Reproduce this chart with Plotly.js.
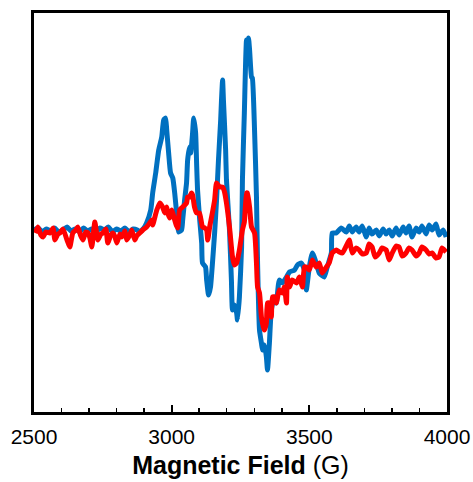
<!DOCTYPE html>
<html>
<head>
<meta charset="utf-8">
<script src="https://cdn.plot.ly/plotly-3.0.1.min.js"></script>
<style>html,body{margin:0;padding:0;background:#fff;}#chart{width:473px;height:482px;}</style>
</head>
<body>
<div id="chart"></div>
<script>
// Magnetic field (G) and EPR signal (arbitrary units)
const fieldBlue = [2500,2515,2530,2545,2560,2575,2590,2605,2620,2635,2650,2665,2680,2695,2710,2725,2740,2755,2770,2785,2800,2815,2830,2845,2860,2875,2884,2899,2909,2924,2931,2942,2953,2964,2971,2978,2982,2989,2996,3004,3011,3018,3025,3036,3040,3047,3054,3058,3065,3069,3076,3080,3087,3091,3094,3101,3109,3112,3123,3127,3134,3141,3149,3156,3163,3170,3178,3181,3185,3188,3196,3199,3210,3217,3221,3228,3236,3239,3246,3254,3257,3264,3272,3275,3279,3283,3290,3293,3301,3308,3312,3319,3326,3330,3337,3344,3348,3355,3362,3373,3380,3391,3402,3417,3428,3446,3457,3471,3482,3489,3500,3511,3525,3536,3554,3565,3580,3583,3598,3616,3634,3645,3656,3670,3681,3692,3707,3717,3728,3743,3754,3768,3779,3790,3801,3815,3826,3841,3851,3862,3873,3888,3899,3909,3924,3935,3946,3960,3971,3986,3997];
const signalBlue = [2,4,0,3,1,4,0,2,5,1,3,0,4,1,3,0,4,2,5,0,3,1,4,0,3,2,0,4,9,22,39,59,82,95,112,114,102,79,59,54,39,19,0,2,12,32,49,72,85,79,99,114,99,65,42,15,-11,-31,-35,-48,-63,-55,-28,-1,32,72,112,132,152,132,82,52,2,-48,-78,-73,-81,-88,-65,-15,52,119,192,189,194,182,155,154,102,35,-31,-98,-111,-118,-113,-125,-138,-111,-78,-65,-71,-48,-51,-45,-40,-38,-33,-31,-38,-58,-35,-21,-31,-41,-45,-35,-21,-1,-1,4,0,6,0,5,0,6,-5,4,-2,2,-4,3,-2,2,-4,4,-3,5,-1,6,-5,4,0,6,-2,7,2,8,-3,2,-5];

const fieldRed = [2504,2514,2525,2533,2543,2558,2569,2576,2587,2594,2605,2620,2630,2641,2652,2659,2670,2678,2688,2696,2703,2710,2721,2732,2743,2750,2761,2768,2779,2786,2793,2801,2812,2819,2830,2837,2848,2855,2866,2873,2884,2895,2909,2920,2928,2931,2946,2957,2967,2975,2982,2986,2993,3000,3004,3011,3018,3022,3029,3040,3054,3058,3065,3072,3076,3083,3091,3101,3112,3120,3127,3131,3138,3145,3156,3163,3174,3185,3192,3199,3210,3221,3228,3236,3246,3257,3264,3272,3275,3283,3290,3301,3308,3312,3319,3326,3333,3337,3344,3348,3355,3362,3366,3373,3380,3391,3402,3409,3417,3420,3428,3438,3453,3464,3475,3482,3489,3500,3511,3525,3536,3547,3562,3572,3583,3598,3609,3620,3634,3645,3656,3670,3681,3692,3707,3717,3728,3739,3754,3764,3779,3790,3801,3815,3826,3837,3851,3862,3873,3888,3899,3909,3924,3935,3946,3960,3971,3982,3997];
const signalRed = [-1,5,-3,-5,0,-1,4,-8,-2,-1,3,-8,-15,-1,2,5,-4,-8,0,-1,-6,-15,10,-8,-2,-1,3,-11,-3,-1,-4,-11,-2,-5,1,-8,-3,2,-8,-4,-1,2,5,9,12,7,22,29,25,19,25,19,14,22,19,12,6,4,22,25,29,35,35,39,37,25,19,19,5,4,2,-8,5,15,32,49,45,45,40,29,5,-25,-33,-31,-18,2,10,39,39,25,5,-1,-31,-55,-61,-85,-95,-98,-91,-71,-71,-85,-65,-65,-71,-58,-61,-55,-71,-45,-55,-48,-51,-45,-55,-35,-35,-38,-28,-35,-31,-41,-35,-31,-21,-18,-20,-21,-14,-8,-21,-16,-18,-22,-21,-12,-15,-25,-21,-16,-18,-28,-21,-14,-15,-24,-21,-16,-18,-24,-21,-15,-18,-22,-21,-26,-25,-16,-20];

const xTickVals = [2500, 3000, 3500, 4000];
const xTickText = ['2500', '3000', '3500', '4000'];

const traces = [
  {x: fieldBlue, y: signalBlue, type: 'scatter', mode: 'lines',
   line: {color: '#0070C0', width: 5, shape: 'spline', smoothing: 0.5}, hoverinfo: 'skip', showlegend: false},
  {x: fieldRed, y: signalRed, type: 'scatter', mode: 'lines',
   line: {color: '#FF0000', width: 5, shape: 'spline', smoothing: 0.5}, hoverinfo: 'skip', showlegend: false}
];

const layout = {
  width: 473, height: 482,
  margin: {l: 34, r: 26, t: 13, b: 70},
  paper_bgcolor: '#ffffff', plot_bgcolor: '#ffffff',
  font: {family: 'Liberation Sans, Arial, sans-serif', color: '#000'},
  xaxis: {
    range: [2500, 4000],
    tickmode: 'array', tickvals: xTickVals, ticktext: xTickText,
    ticks: 'inside', ticklen: 7, tickwidth: 2, tickcolor: '#000',
    minor: {dtick: 100, ticks: 'inside', ticklen: 4, tickwidth: 1.5, tickcolor: '#000'},
    showline: true, linewidth: 3, linecolor: '#000', mirror: true,
    showgrid: false, zeroline: false,
    tickfont: {size: 21, color: '#000'},
    ticklabelstandoff: 4,
    title: {text: '<b>Magnetic Field</b> (G)', font: {size: 25, color: '#000'}, standoff: 10}
  },
  yaxis: {
    range: [-180, 219],
    showticklabels: false, ticks: '',
    showline: true, linewidth: 3, linecolor: '#000', mirror: true,
    showgrid: false, zeroline: false
  }
};

Plotly.newPlot('chart', traces, layout, {displayModeBar: false, staticPlot: true});
</script>
</body>
</html>
